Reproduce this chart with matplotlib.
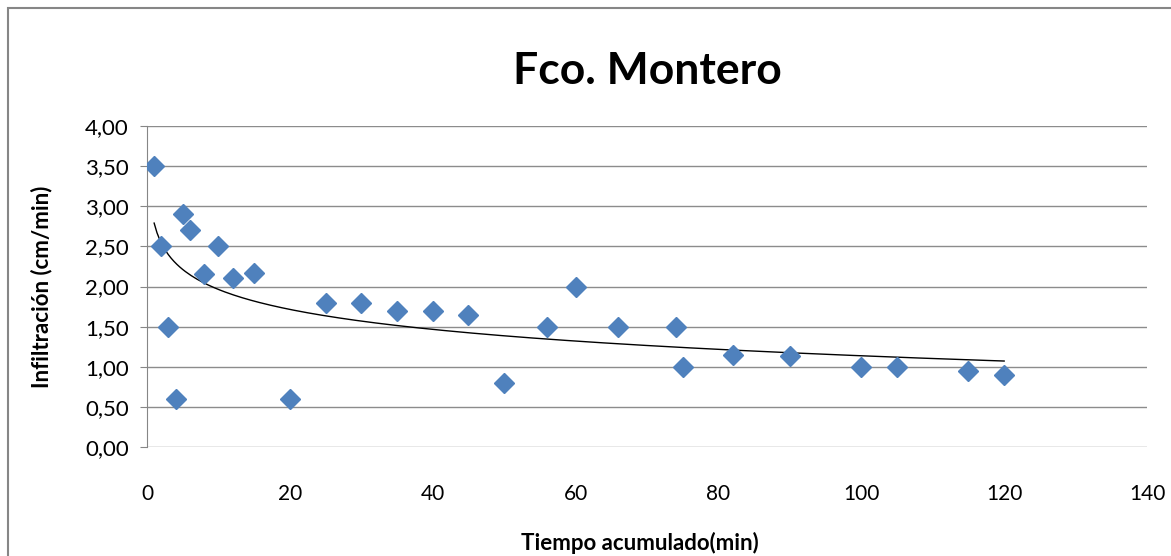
import numpy as np
import matplotlib.pyplot as plt
from matplotlib.patches import Rectangle

# Datos de infiltración - Fco. Montero
TIEMPO = [1, 2, 3, 4, 5, 6, 8, 10, 12, 15, 20, 25, 30, 35, 40, 45, 50,
          56, 60, 66, 74, 75, 82, 90, 100, 105, 115, 120]
INFILTRACION = [3.50, 2.50, 1.50, 0.60, 2.90, 2.70, 2.15, 2.50, 2.10, 2.17,
                0.60, 1.80, 1.80, 1.70, 1.70, 1.65, 0.80, 1.50, 2.00, 1.50,
                1.50, 1.00, 1.15, 1.13, 1.00, 1.00, 0.95, 0.90]

# línea de tendencia logarítmica y = a + b*ln(x)
TREND_A = 2.79
TREND_B = -0.359

X_TICKS = [0, 20, 40, 60, 80, 100, 120, 140]
Y_TICKS = [0.0, 0.5, 1.0, 1.5, 2.0, 2.5, 3.0, 3.5, 4.0]

plt.rcParams['font.family'] = ['Lato', 'DejaVu Sans']

fig = plt.figure(figsize=(11.71, 5.56), dpi=100)
ax = fig.add_axes([147/1171, 1 - 447/556, 1000/1171, 321/556])

# marco del gráfico (estilo Excel)
fig.patches.append(Rectangle((8/1171, -0.05), 1.2, 1 - 8/556 + 0.05,
                             transform=fig.transFigure, fill=False,
                             edgecolor='#868686', linewidth=1.5))

ax.plot(TIEMPO, INFILTRACION, linestyle='none', marker='D', markersize=10,
        color='#4F81BD', markeredgecolor='#4F81BD', zorder=3)

xt = np.linspace(min(TIEMPO), max(TIEMPO), 300)
ax.plot(xt, TREND_A + TREND_B * np.log(xt), color='black', linewidth=1, zorder=2)

ax.set_xlim(0, 140)
ax.set_ylim(0, 4)
ax.set_xticks(X_TICKS)
ax.set_yticks(Y_TICKS)
ax.set_yticklabels([f'{v:.2f}'.replace('.', ',') for v in Y_TICKS])
ax.tick_params(axis='y', direction='out', length=5, color='#868686',
               labelsize=16, pad=8)
ax.tick_params(axis='x', length=0, labelsize=15, pad=27)

ax.grid(axis='y', color='#8c8c8c', linewidth=1)
ax.set_axisbelow(True)
for s in ['top', 'right', 'bottom']:
    ax.spines[s].set_visible(False)
ax.spines['left'].set_color('#868686')

ax.set_title('Fco. Montero', fontsize=32, fontweight='bold', pad=30)
ax.set_xlabel('Tiempo acumulado(min)', fontsize=16, fontweight='bold', va='center')
ax.set_ylabel('Infiltración (cm/min)', fontsize=16, fontweight='bold', va='center')
ax.xaxis.set_label_coords(0.493, -0.299)
ax.yaxis.set_label_coords(-0.105, 0.5)

fig.savefig('out.png', dpi=100)
